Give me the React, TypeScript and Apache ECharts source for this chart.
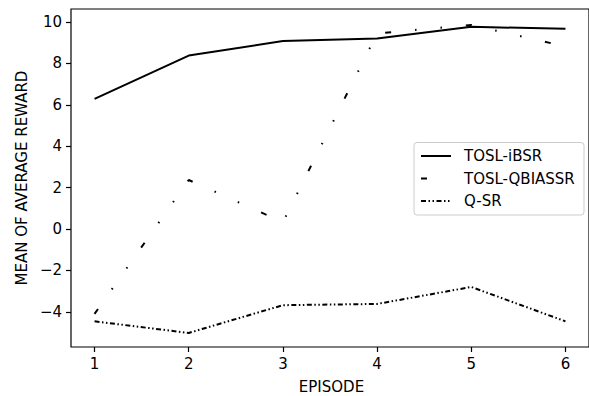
import React, { useEffect, useRef } from "react";
import * as echarts from "echarts";

const episodes = [1, 2, 3, 4, 5, 6];
const tosliBSR = [6.29, 8.38, 9.08, 9.2, 9.77, 9.67];
const toslQBIASSR = [-4.1, 2.37, 0.33, 9.45, 9.86, 8.82];
const qSR = [-4.46, -5.02, -3.68, -3.62, -2.8, -4.46];
const xTicks = [1, 2, 3, 4, 5, 6];
const yTicks = [-4, -2, 0, 2, 4, 6, 8, 10];

const FONT = "DejaVu Sans";

export default function App() {
  const ref = useRef<HTMLDivElement>(null);
  useEffect(() => {
    if (!ref.current) return;
    const chart = echarts.init(ref.current, undefined, { renderer: "svg" });
    const mk = (arr: number[]) => episodes.map((e, i) => [e, arr[i]]);
    const legendEntries = [
      { name: "TOSL-iBSR", dash: null as number[] | null, y: 156 },
      { name: "TOSL-QBIASSR", dash: [6, 24, 1.5, 24], y: 178.5 },
      { name: "Q-SR", dash: [5, 2.5, 1.5, 2.5, 1.5, 2.5], y: 201 },
    ];
    const graphics: any[] = [
      {
        type: "text",
        x: 22,
        y: 178,
        rotation: Math.PI / 2,
        style: {
          text: "MEAN OF AVERAGE REWARD",
          font: `15px '${FONT}'`,
          fill: "#000",
          align: "center",
          verticalAlign: "middle",
        },
      },
      {
        type: "text",
        x: 331.5,
        y: 387,
        style: {
          text: "EPISODE",
          font: `15px '${FONT}'`,
          fill: "#000",
          align: "center",
          verticalAlign: "middle",
        },
      },
      {
        type: "rect",
        shape: { x: 414, y: 142.5, width: 170, height: 72.5, r: 3 },
        style: { fill: "rgba(255,255,255,0.8)", stroke: "#cccccc", lineWidth: 1 },
        z: 100,
      },
    ];
    legendEntries.forEach((e) => {
      graphics.push({
        type: "line",
        shape: { x1: 421, y1: e.y, x2: 451, y2: e.y },
        style: { stroke: "#000", lineWidth: 2, lineDash: e.dash || undefined },
        z: 101,
      });
      graphics.push({
        type: "text",
        x: 464,
        y: e.y,
        style: {
          text: e.name,
          font: `15px '${FONT}'`,
          fill: "#000",
          align: "left",
          verticalAlign: "middle",
        },
        z: 101,
      });
    });
    chart.setOption({
      animation: false,
      backgroundColor: "#fff",
      grid: {
        left: 71,
        top: 9,
        width: 521,
        height: 338,
        show: true,
        borderColor: "#000",
        borderWidth: 1.2,
        backgroundColor: "transparent",
      },
      xAxis: {
        type: "value",
        min: 0.75,
        max: 6.25,
        axisLine: { show: false, onZero: false },
        splitLine: { show: false },
        axisTick: {
          show: true,
          customValues: xTicks,
          length: 5,
          lineStyle: { color: "#000", width: 1.2 },
        },
        axisLabel: {
          customValues: xTicks,
          margin: 9,
          fontFamily: FONT,
          fontSize: 15,
          color: "#000",
        },
      },
      yAxis: {
        type: "value",
        min: -5.7,
        max: 10.63,
        axisLine: { show: false, onZero: false },
        splitLine: { show: false },
        axisTick: {
          show: true,
          customValues: yTicks,
          length: 5,
          lineStyle: { color: "#000", width: 1.2 },
        },
        axisLabel: {
          customValues: yTicks,
          margin: 9,
          fontFamily: FONT,
          fontSize: 15,
          color: "#000",
          formatter: (v: number) => (v < 0 ? "\u2212" + Math.abs(v) : String(v)),
        },
      },
      series: [
        {
          name: "TOSL-iBSR",
          type: "line",
          data: mk(tosliBSR),
          showSymbol: false,
          symbol: "none",
          lineStyle: { color: "#000", width: 2 },
        },
        {
          name: "TOSL-QBIASSR",
          type: "line",
          data: mk(toslQBIASSR),
          showSymbol: false,
          symbol: "none",
          lineStyle: { color: "#000", width: 2, type: [6, 24, 1.5, 24, 1.5, 24] },
        },
        {
          name: "Q-SR",
          type: "line",
          data: mk(qSR),
          showSymbol: false,
          symbol: "none",
          lineStyle: { color: "#000", width: 2, type: [5, 2.5, 1.5, 2.5, 1.5, 2.5] },
        },
      ],
      graphic: graphics,
    });
    return () => chart.dispose();
  }, []);
  return <div ref={ref} style={{ width: 589, height: 396, position: "absolute", left: 0, top: 0 }} />;
}
